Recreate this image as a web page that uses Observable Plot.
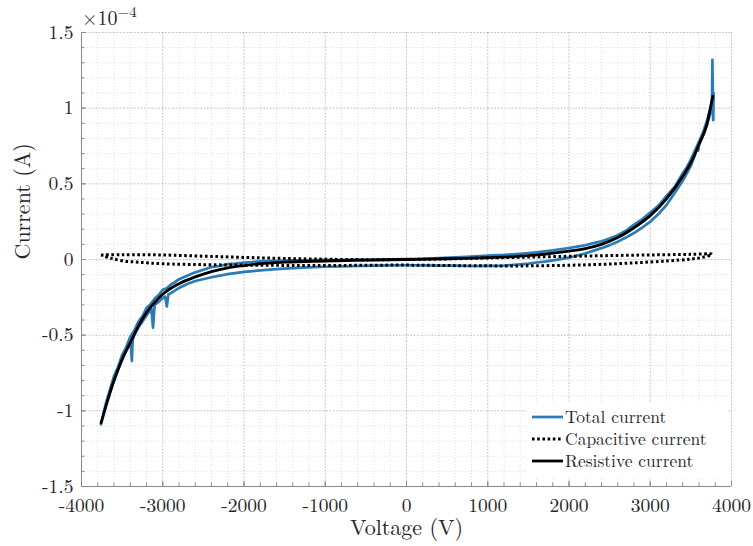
<!DOCTYPE html>
<html><head><meta charset="utf-8">
<script src="https://cdn.jsdelivr.net/npm/d3@7"></script>
<script src="https://cdn.jsdelivr.net/npm/@observablehq/plot@0.6"></script>
<style>
body{margin:0;background:#fff;font-family:"Latin Modern Roman","Liberation Serif",serif;}
svg, svg text, svg tspan{font-family:"Latin Modern Roman","Liberation Serif",serif !important;}
</style>
</head><body><div id="chart"></div>
<script>
// ---- tick labels ----
const xMajorTicks = [-4000,-3000,-2000,-1000,0,1000,2000,3000,4000];
const xTickLabels = ["-4000","-3000","-2000","-1000","0","1000","2000","3000","4000"];
const yMajorTicks = [-1.5,-1,-0.5,0,0.5,1,1.5];
const yTickLabels = ["-1.5","-1","-0.5","0","0.5","1","1.5"];
const xMinorTicks = d3.range(-4000, 4001, 200);
const yMinorTicks = d3.range(-15, 16, 1).map(d => d / 10);
const seriesNames = ["Total current","Capacitive current","Resistive current"];

// ---- data (current in units of 1e-4 A) ----
// Resistive current (black solid)
const resistiveV = [-3760,-3700,-3600,-3500,-3400,-3300,-3200,-3100,-3000,-2800,-2600,-2400,-2200,-2000,-1800,-1500,-1000,-500,0,500,1000,1500,2000,2200,2400,2600,2800,3000,3200,3400,3500,3600,3700,3770];
const resistiveI = [-1.08,-0.97,-0.80,-0.66,-0.55,-0.44,-0.35,-0.285,-0.23,-0.16,-0.115,-0.08,-0.055,-0.04,-0.028,-0.018,-0.01,-0.004,0,0.005,0.012,0.025,0.055,0.072,0.10,0.145,0.21,0.29,0.40,0.55,0.64,0.76,0.90,1.08];

// Capacitive current (black dotted loop): upper branch then lower branch back
const capV = [-3760,-3500,-3000,-2500,-2000,-1500,-1000,-500,0,500,1000,1500,2000,2500,3000,3500,3760,
              3650,3500,3200,2800,2400,2000,1500,1000,500,0,-500,-1000,-1500,-2000,-2500,-3000,-3300,-3500,-3650,-3760];
const capI = [0.03,0.032,0.03,0.022,0.014,0.007,0.002,-0.001,0.0,0.004,0.01,0.016,0.021,0.026,0.03,0.034,0.035,
              0.015,0.003,-0.01,-0.022,-0.032,-0.038,-0.042,-0.042,-0.04,-0.037,-0.038,-0.04,-0.039,-0.037,-0.034,-0.028,-0.018,-0.008,0.01,0.03];

// Total current (blue, measured loop with noise)
const totalV = [-3760,-3730,-3700,-3650,-3600,-3550,-3500,-3450,-3400,-3350,-3300,-3250,-3200,-3150,-3100,-3050,-3000,-2950,-2900,-2850,-2800,-2700,-2600,-2500,-2400,-2300,-2200,-2100,-2000,-1900,-1800,-1600,-1400,-1200,-1000,-800,-600,-400,-200,0,200,400,600,800,1000,1200,1400,1600,1800,2000,2100,2200,2300,2400,2500,2600,2700,2800,2900,3000,3100,3200,3300,3400,3450,3500,3550,3600,3650,3700,3740,3760,3765,3770,3780,
  3775,3765,3740,3700,3650,3600,3590,3580,3550,3500,3450,3400,3300,3200,3100,3000,2900,2800,2700,2600,2500,2400,2300,2200,2100,2000,1900,1800,1700,1600,1500,1400,1200,1000,800,600,400,200,0,-200,-400,-600,-800,-1000,-1200,-1400,-1600,-1800,-2000,-2200,-2400,-2600,-2700,-2800,-2900,-2930,-2950,-2970,-3000,-3050,-3100,-3120,-3140,-3200,-3250,-3300,-3350,-3370,-3380,-3395,-3450,-3500,-3550,-3600,-3650,-3700,-3760];
const totalI = [-1.09,-1.02,-0.95,-0.86,-0.77,-0.71,-0.63,-0.58,-0.51,-0.47,-0.41,-0.375,-0.32,-0.295,-0.26,-0.235,-0.20,-0.19,-0.165,-0.15,-0.13,-0.108,-0.085,-0.068,-0.05,-0.043,-0.03,-0.027,-0.02,-0.017,-0.012,-0.009,-0.005,-0.006,-0.003,-0.004,-0.001,-0.002,0.001,0.002,0.005,0.01,0.014,0.02,0.025,0.03,0.038,0.048,0.06,0.076,0.085,0.094,0.108,0.12,0.138,0.16,0.19,0.23,0.265,0.31,0.355,0.42,0.48,0.57,0.61,0.66,0.72,0.78,0.84,0.92,1.0,1.06,1.32,1.08,1.10,
  0.92,1.02,0.97,0.89,0.82,0.76,0.72,0.75,0.69,0.62,0.57,0.52,0.44,0.36,0.30,0.25,0.21,0.175,0.145,0.118,0.095,0.075,0.058,0.04,0.026,0.012,0.003,-0.006,-0.014,-0.02,-0.027,-0.032,-0.04,-0.042,-0.043,-0.041,-0.04,-0.039,-0.038,-0.039,-0.041,-0.043,-0.045,-0.048,-0.052,-0.057,-0.063,-0.072,-0.082,-0.097,-0.117,-0.142,-0.162,-0.188,-0.222,-0.23,-0.31,-0.245,-0.255,-0.28,-0.30,-0.45,-0.325,-0.37,-0.41,-0.45,-0.50,-0.53,-0.67,-0.55,-0.60,-0.66,-0.73,-0.80,-0.88,-0.96,-1.09];

const resistive = resistiveV.map((v, i) => ({v, c: resistiveI[i]}));
const capacitive = capV.map((v, i) => ({v, c: capI[i]}));
const total = totalV.map((v, i) => ({v, c: totalI[i]}));

const blue = "#2a7bb6";
const axisColor = "#8a8a8a";
const textColor = "#262626";
const font = "Latin Modern Roman, Liberation Serif, serif";
const dots = "2.6,2.6";

const plot = Plot.plot({
  width: 753, height: 546,
  marginLeft: 81, marginRight: 22, marginTop: 32, marginBottom: 60,
  x: {domain: [-4000, 4000]},
  y: {domain: [-1.5, 1.5]},
  style: {fontFamily: font, fontSize: "19.5px", color: textColor, background: "#fff"},
  marks: [
    Plot.gridX(xMinorTicks, {stroke: "#000", strokeOpacity: 0.12, strokeDasharray: "1,2"}),
    Plot.gridY(yMinorTicks, {stroke: "#000", strokeOpacity: 0.12, strokeDasharray: "1,2"}),
    Plot.gridX(xMajorTicks, {stroke: "#000", strokeOpacity: 0.16, strokeDasharray: "2,1.5"}),
    Plot.gridY(yMajorTicks, {stroke: "#000", strokeOpacity: 0.16, strokeDasharray: "2,1.5"}),
    Plot.ruleX([-4000], {stroke: axisColor}),
    Plot.ruleY([-1.5], {stroke: axisColor}),
    Plot.axisX(xMinorTicks, {tickSize: 3.5, dy: -3.5, text: null, stroke: axisColor, label: null}),
    Plot.axisY(yMinorTicks, {tickSize: 3.5, dx: 3.5, text: null, stroke: axisColor, label: null}),
    Plot.axisX(xMajorTicks, {tickSize: 5, dy: -5, text: null, stroke: axisColor, label: null}),
    Plot.axisY(yMajorTicks, {tickSize: 5, dx: 5, text: null, stroke: axisColor, label: null}),
    Plot.axisX(xMajorTicks, {tickSize: 0, tickPadding: 12, label: null, fill: textColor, fontSize: 19.5,
      tickFormat: d => xTickLabels[xMajorTicks.indexOf(d)]}),
    Plot.axisY(yMajorTicks, {tickSize: 0, tickPadding: 8, label: null, fill: textColor, fontSize: 19.5,
      tickFormat: d => yTickLabels[yMajorTicks.indexOf(d)]}),
    Plot.text(["Voltage (V)"], {frameAnchor: "bottom", dy: 48, fontSize: 22, fill: textColor}),
    Plot.text(["Current (A)"], {frameAnchor: "left", dx: -59, rotate: -90, fontSize: 22, fill: textColor}),
    Plot.line(total, {x: "v", y: "c", stroke: blue, strokeWidth: 2.7, strokeLinejoin: "round"}),
    Plot.line(capacitive, {x: "v", y: "c", stroke: "#000", strokeWidth: 3, strokeDasharray: dots, strokeLinecap: "butt", curve: "catmull-rom"}),
    Plot.line(resistive, {x: "v", y: "c", stroke: "#000", strokeWidth: 2.8, curve: "monotone-x"})
  ]
});

// exponent label and legend, positioned from the plot's scales
const xs = plot.scale("x"), ys = plot.scale("y");
const svg = d3.select(plot);
const frameLeft = xs.apply(-4000), frameRight = xs.apply(4000), frameTop = ys.apply(1.5), frameBottom = ys.apply(-1.5);

const ex = svg.append("text").attr("x", frameLeft + 1).attr("y", frameTop - 7)
  .attr("text-anchor", "start").attr("fill", textColor).style("font-family", font);
ex.append("tspan").attr("font-size", 20).text("×10");
ex.append("tspan").attr("font-size", 15).attr("dy", -8).text("−4");

const lg = svg.append("g").attr("text-anchor", "start");
lg.append("rect").attr("x", frameRight - 205).attr("y", frameBottom - 84).attr("width", 202).attr("height", 76).attr("fill", "#fff");
const rows = [
  {stroke: blue, w: 2.7, dash: null},
  {stroke: "#000", w: 3, dash: dots},
  {stroke: "#000", w: 2.8, dash: null}
];
const rowY = [frameBottom - 69, frameBottom - 47, frameBottom - 25];
rows.forEach((r, i) => {
  lg.append("line").attr("x1", frameRight - 199).attr("x2", frameRight - 168).attr("y1", rowY[i]).attr("y2", rowY[i])
    .attr("stroke", r.stroke).attr("stroke-width", r.w).attr("stroke-dasharray", r.dash);
  lg.append("text").attr("x", frameRight - 166).attr("y", rowY[i]).attr("dy", "0.33em")
    .attr("font-size", 17.5).attr("fill", textColor).style("font-family", font).text(seriesNames[i]);
});

document.getElementById("chart").append(plot);
</script>
</body></html>
